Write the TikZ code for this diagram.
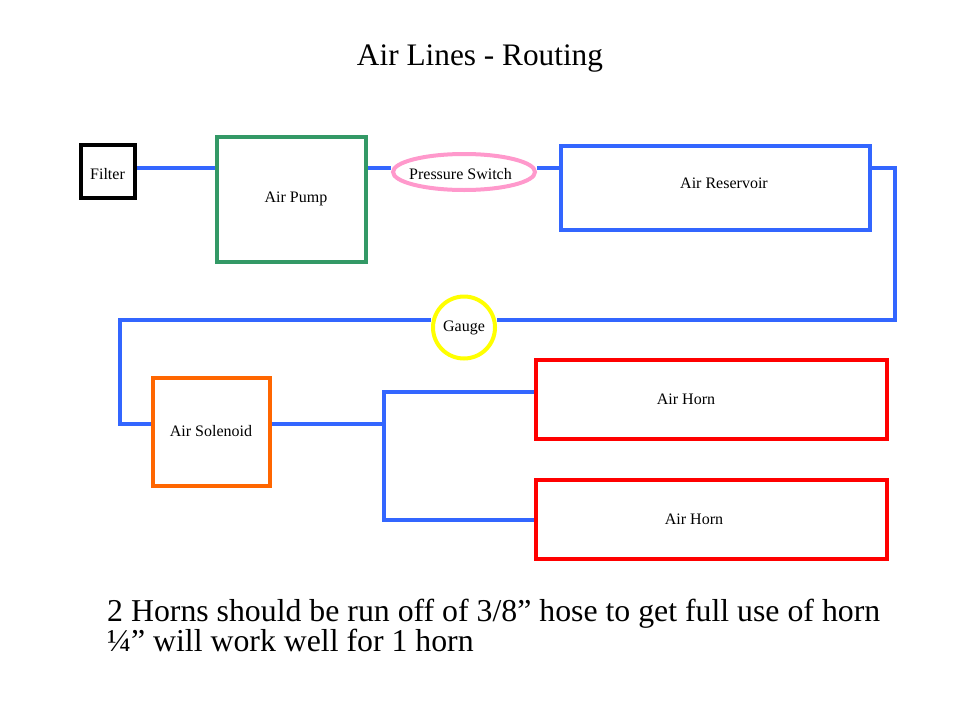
\documentclass[tikz,border=0pt]{standalone}
\usepackage{fontspec}
\setmainfont{Liberation Serif}
\usetikzlibrary{shapes.geometric,backgrounds}
\definecolor{pipeblue}{HTML}{3366FF}
\definecolor{pumpgreen}{HTML}{339966}
\definecolor{swpink}{HTML}{FF99CC}
\definecolor{solorange}{HTML}{FF6600}
\definecolor{hornred}{HTML}{FF0000}
\definecolor{gaugeyellow}{HTML}{FFFF00}
\tikzset{
  pipe/.style={draw=pipeblue,line width=4pt,line join=miter},
  box/.style={rectangle,line width=4pt,fill=white,inner sep=0pt,font=\fontsize{16}{18}\selectfont},
  lbl/.style={inner sep=0pt,font=\fontsize{16}{18}\selectfont},
}
\begin{document}
\begin{tikzpicture}[x=1pt,y=-1pt]
\useasboundingbox (0,0) rectangle (960,720);
% title
\node (title) at (480,59) {\fontsize{31.3}{36}\selectfont Air Lines - Routing};
% components
\node[box,draw=black,minimum width=54pt,minimum height=53pt] (filter) at (107.5,171.5) {};
\node[lbl] (filtert) at (107.5,174.5) {Filter};
\node[box,draw=pumpgreen,minimum width=149pt,minimum height=125pt] (pump) at (291.5,199.5) {};
\node[lbl] (pumpt) at (296,199) {Air Pump};
\node[ellipse,line width=4pt,draw=swpink,fill=white,inner sep=0pt,minimum width=142pt,minimum height=36pt] (ps) at (464,172) {};
\node[lbl] (pst) at (460.5,174) {Pressure Switch};
\node[box,draw=pipeblue,minimum width=309pt,minimum height=84pt] (res) at (715.5,188) {};
\node[lbl] (rest) at (724,183) {Air Reservoir};
\node[circle,line width=4pt,draw=gaugeyellow,fill=white,inner sep=0pt,minimum size=62pt,font=\fontsize{16}{18}\selectfont] (gauge) at (464,327.5) {Gauge};
\node[box,draw=solorange,minimum width=117pt,minimum height=108pt] (sol) at (211.5,432) {};
\node[lbl] (solt) at (211,431) {Air Solenoid};
\node[box,draw=hornred,minimum width=351pt,minimum height=79pt] (horn1) at (711.5,399.5) {};
\node[lbl] (horn1t) at (686,399) {Air Horn};
\node[box,draw=hornred,minimum width=351pt,minimum height=79pt] (horn2) at (711.5,519.5) {};
\node[lbl] (horn2t) at (694,519) {Air Horn};
% routing coordinates
\coordinate (yA) at (0,168);
\coordinate (c1) at (895,168);
\coordinate (yB) at (0,320);
\coordinate (c3) at (120,320);
\coordinate (yC) at (0,424);
\coordinate (j1) at (384,392);
\coordinate (j2) at (384,520);
% pipes
\begin{scope}[on background layer]
\draw[pipe] (filter.east |- yA) -- (pump.west |- yA);
\draw[pipe] (pump.east |- yA) -- (ps.west |- yA);
\draw[pipe] (ps.east |- yA) -- (res.west |- yA);
\draw[pipe] (res.east |- yA) -- (c1) -- (c1 |- yB) -- (gauge.east |- yB);
\draw[pipe] (gauge.west |- yB) -- (c3) -- (c3 |- yC) -- (sol.west |- yC);
\draw[pipe] (sol.east |- yC) -- (j1 |- yC);
\draw[pipe] (horn1.west |- j1) -- (j1) -- (j2) -- (horn2.west |- j2);
\end{scope}
% notes
\node[anchor=base west,inner sep=0pt,font=\fontsize{31.8}{34}\selectfont] (note1) at (107,621) {2 Horns should be run off of 3/8” hose to get full use of horn};
\node[anchor=base west,inner sep=0pt,font=\fontsize{31.8}{34}\selectfont] (note2) at (107,651) {¼” will work well for 1 horn};
\end{tikzpicture}
\end{document}
